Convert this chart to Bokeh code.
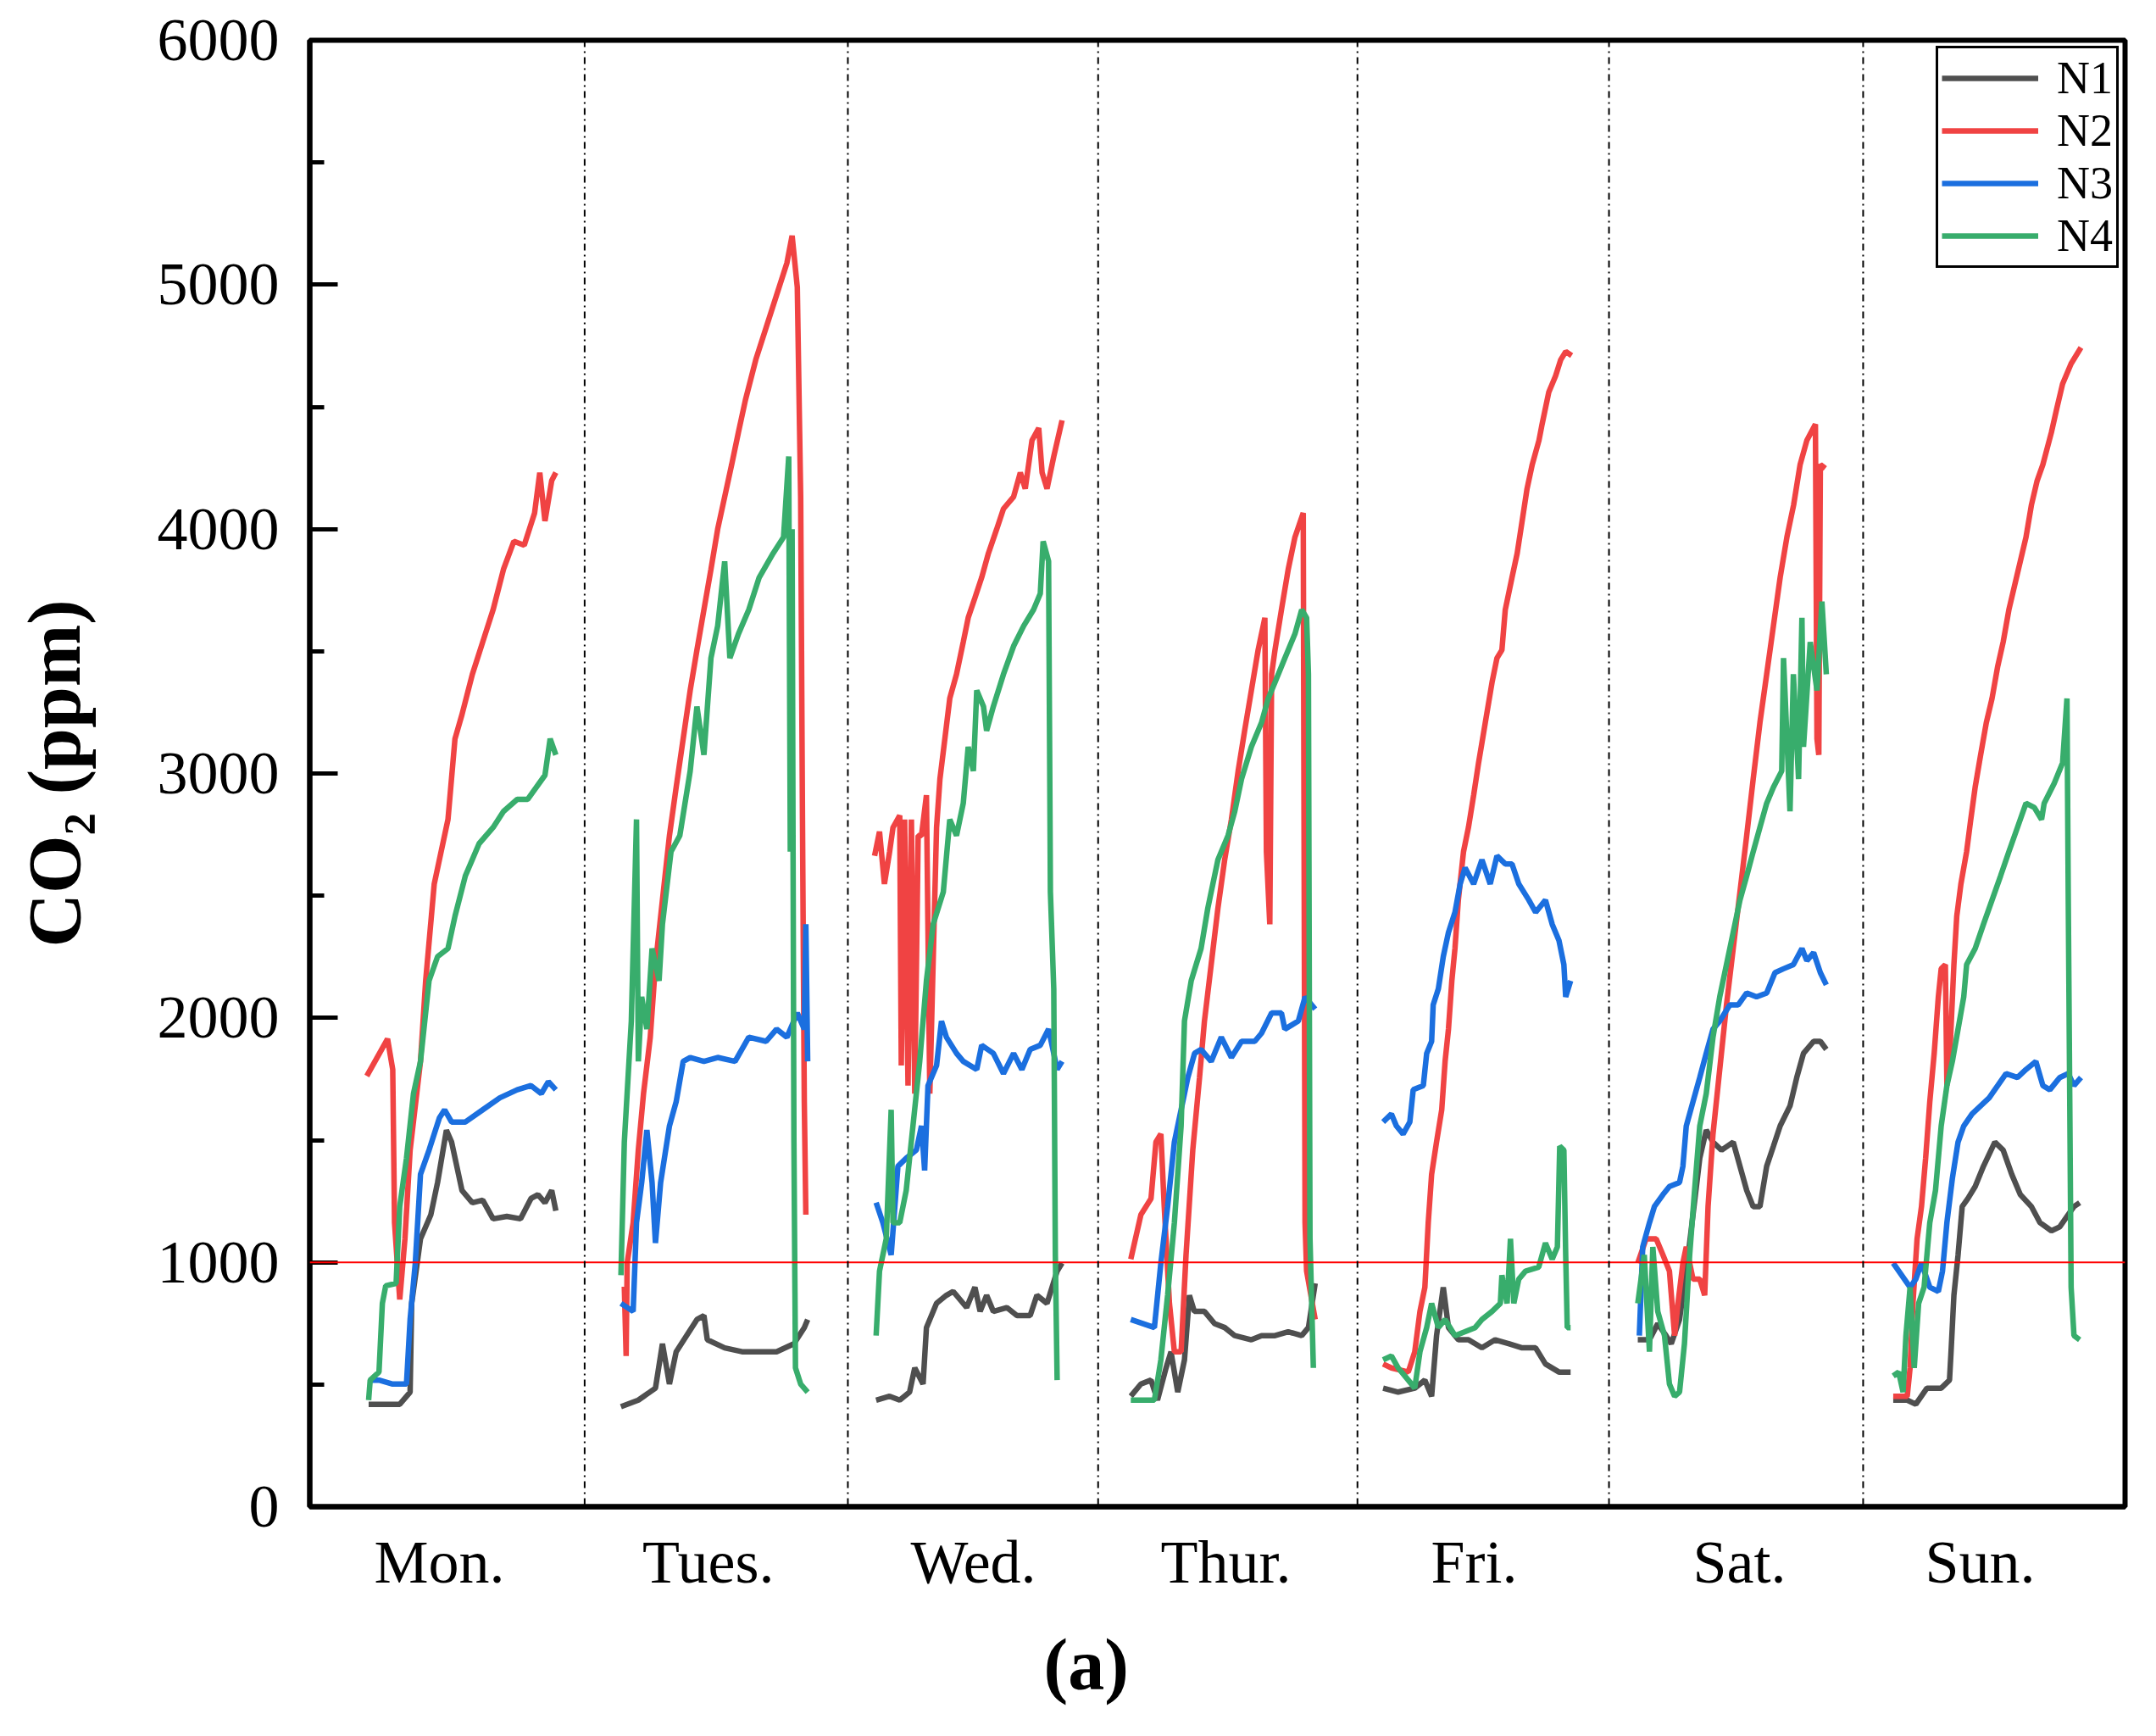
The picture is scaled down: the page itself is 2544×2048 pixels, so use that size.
import numpy as np
from bokeh.plotting import figure
from bokeh.models import Span, Title, FixedTicker, SingleIntervalTicker
from bokeh.embed import file_html
from bokeh.resources import INLINE

# x is time in days (0 = start of Mon.), y is CO2 in ppm
days = ["Mon.", "Tues.", "Wed.", "Thur.", "Fri.", "Sat.", "Sun."]
day_ticks = [0.50, 1.537, 2.559, 3.533, 4.49, 5.513, 6.441]
day_bounds = [1.06, 2.075, 3.04, 4.04, 5.01, 5.99]
limit_ppm = 1000

# ---- N1 ----
n1_mon = [(0.227, 419), (0.267, 419), (0.347, 419), (0.387, 469), (0.393, 832), (0.427, 1096),
          (0.467, 1195), (0.493, 1327), (0.527, 1541), (0.547, 1492), (0.587, 1294), (0.627, 1244),
          (0.667, 1254), (0.707, 1178), (0.76, 1188), (0.813, 1178), (0.853, 1261), (0.88, 1277),
          (0.907, 1244), (0.933, 1294), (0.949, 1211)]
n1_tue = [(1.2, 409), (1.267, 436), (1.333, 485), (1.36, 667), (1.387, 502), (1.413, 634),
          (1.453, 700), (1.493, 766), (1.52, 782), (1.533, 683), (1.6, 650), (1.667, 634),
          (1.733, 634), (1.8, 634), (1.867, 667), (1.907, 733), (1.92, 766)]
n1_wed = [(2.184, 436), (2.236, 452), (2.275, 436), (2.313, 469), (2.333, 568), (2.365, 502),
          (2.378, 733), (2.417, 832), (2.455, 865), (2.481, 881), (2.533, 815), (2.565, 898),
          (2.585, 799), (2.61, 865), (2.636, 799), (2.688, 815), (2.727, 782), (2.778, 782),
          (2.804, 865), (2.843, 832), (2.882, 964), (2.901, 997)]
n1_thu = [(3.166, 452), (3.205, 502), (3.244, 518), (3.269, 436), (3.302, 568), (3.321, 634),
          (3.347, 469), (3.373, 601), (3.392, 865), (3.411, 799), (3.45, 799), (3.489, 749),
          (3.528, 733), (3.567, 700), (3.631, 683), (3.67, 700), (3.722, 700), (3.773, 716),
          (3.825, 700), (3.851, 733), (3.877, 914)]
n1_fri = [(4.139, 485), (4.197, 469), (4.261, 485), (4.3, 518), (4.326, 452), (4.345, 700),
          (4.371, 898), (4.391, 733), (4.429, 683), (4.468, 683), (4.52, 650), (4.571, 683),
          (4.623, 667), (4.675, 650), (4.727, 650), (4.765, 584), (4.817, 551), (4.862, 551)]
n1_sat = [(5.121, 683), (5.166, 683), (5.198, 749), (5.23, 700), (5.25, 667), (5.282, 766),
          (5.308, 964), (5.334, 1195), (5.36, 1426), (5.385, 1541), (5.411, 1492), (5.444, 1459),
          (5.489, 1492), (5.515, 1393), (5.541, 1294), (5.566, 1228), (5.592, 1228), (5.618, 1393),
          (5.644, 1475), (5.67, 1558), (5.708, 1640), (5.734, 1756), (5.76, 1855), (5.799, 1904),
          (5.825, 1904), (5.848, 1871)]
n1_sun = [(6.106, 436), (6.16, 436), (6.193, 419), (6.236, 485), (6.291, 485), (6.323, 518),
          (6.329, 634), (6.34, 865), (6.356, 1030), (6.372, 1228), (6.394, 1261), (6.422, 1310),
          (6.454, 1393), (6.498, 1492), (6.53, 1459), (6.563, 1360), (6.596, 1277), (6.639, 1228),
          (6.672, 1162), (6.716, 1129), (6.748, 1145), (6.781, 1195), (6.803, 1228), (6.825, 1244)]

# ---- N2 ----
n2_mon = [(0.22, 1762), (0.30, 1914), (0.32, 1789), (0.327, 1162), (0.347, 848), (0.367, 1096),
          (0.387, 1459), (0.427, 1822), (0.447, 2152), (0.48, 2548), (0.533, 2812), (0.56, 3142),
          (0.587, 3241), (0.627, 3406), (0.667, 3538), (0.707, 3670), (0.747, 3835), (0.787, 3950),
          (0.827, 3934), (0.867, 4066), (0.887, 4231), (0.907, 4033), (0.933, 4198), (0.949, 4231)]
n2_tue = [(1.213, 900), (1.22, 617), (1.224, 997), (1.247, 1162), (1.267, 1459), (1.287, 1690),
          (1.313, 1921), (1.333, 2218), (1.36, 2482), (1.387, 2746), (1.413, 2944), (1.44, 3142),
          (1.467, 3340), (1.493, 3505), (1.52, 3670), (1.547, 3835), (1.573, 4000), (1.6, 4132),
          (1.627, 4264), (1.653, 4396), (1.68, 4528), (1.72, 4693), (1.76, 4825), (1.8, 4957),
          (1.84, 5089), (1.86, 5200), (1.88, 4990), (1.893, 4132), (1.9, 2812), (1.907, 1657),
          (1.913, 1195)]
n2_wed = [(2.178, 2663), (2.197, 2762), (2.216, 2548), (2.236, 2680), (2.249, 2779), (2.275, 2828),
          (2.281, 1805), (2.294, 2812), (2.307, 1723), (2.32, 2812), (2.333, 1690), (2.346, 2746),
          (2.359, 2746), (2.378, 2911), (2.391, 1690), (2.417, 2779), (2.43, 2977), (2.449, 3142),
          (2.468, 3307), (2.494, 3406), (2.52, 3538), (2.539, 3637), (2.565, 3719), (2.591, 3802),
          (2.617, 3901), (2.649, 4000), (2.675, 4083), (2.714, 4132), (2.74, 4231), (2.759, 4165),
          (2.785, 4363), (2.811, 4413), (2.824, 4231), (2.843, 4165), (2.869, 4297), (2.901, 4445)]
n2_thu = [(3.166, 1013), (3.205, 1195), (3.244, 1261), (3.263, 1492), (3.282, 1525), (3.295, 1228),
          (3.315, 832), (3.334, 634), (3.36, 634), (3.379, 1030), (3.405, 1459), (3.431, 1756),
          (3.45, 1987), (3.476, 2218), (3.502, 2449), (3.528, 2647), (3.554, 2812), (3.58, 3010),
          (3.605, 3175), (3.631, 3340), (3.657, 3505), (3.683, 3637), (3.689, 2680), (3.702, 2383),
          (3.709, 3406), (3.722, 3505), (3.747, 3670), (3.773, 3835), (3.799, 3967), (3.831, 4066),
          (3.838, 1162), (3.844, 964), (3.877, 766)]
n2_fri = [(4.139, 584), (4.171, 568), (4.236, 551), (4.261, 634), (4.281, 799), (4.3, 898),
          (4.313, 1162), (4.326, 1360), (4.345, 1492), (4.365, 1624), (4.378, 1822), (4.391, 1954),
          (4.404, 2152), (4.416, 2284), (4.429, 2482), (4.449, 2680), (4.468, 2779), (4.488, 2911),
          (4.507, 3043), (4.533, 3208), (4.559, 3373), (4.578, 3472), (4.597, 3505), (4.61, 3670),
          (4.636, 3802), (4.656, 3901), (4.675, 4033), (4.694, 4165), (4.714, 4264), (4.74, 4363),
          (4.752, 4429), (4.778, 4561), (4.804, 4627), (4.824, 4693), (4.843, 4726), (4.866, 4710)]
n2_sat = [(5.121, 997), (5.153, 1096), (5.192, 1096), (5.218, 1030), (5.243, 964), (5.263, 700),
          (5.276, 832), (5.295, 997), (5.308, 1063), (5.334, 931), (5.36, 931), (5.379, 865),
          (5.392, 1228), (5.411, 1525), (5.437, 1789), (5.463, 2053), (5.489, 2284), (5.515, 2515),
          (5.541, 2746), (5.566, 2977), (5.592, 3208), (5.618, 3406), (5.644, 3604), (5.67, 3802),
          (5.696, 3967), (5.722, 4099), (5.747, 4264), (5.773, 4363), (5.806, 4429), (5.812, 3142),
          (5.819, 3076), (5.825, 4264), (5.844, 4248)]
n2_sun = [(6.106, 452), (6.16, 452), (6.171, 568), (6.182, 832), (6.198, 1096), (6.215, 1228),
          (6.231, 1426), (6.247, 1657), (6.264, 1855), (6.28, 2086), (6.291, 2201), (6.307, 2218),
          (6.313, 1723), (6.323, 1822), (6.34, 2218), (6.351, 2416), (6.367, 2548), (6.389, 2680),
          (6.405, 2812), (6.422, 2944), (6.443, 3076), (6.465, 3208), (6.487, 3307), (6.509, 3439),
          (6.53, 3538), (6.552, 3670), (6.574, 3769), (6.596, 3868), (6.618, 3967), (6.639, 4099),
          (6.661, 4198), (6.683, 4264), (6.716, 4396), (6.737, 4495), (6.759, 4594), (6.792, 4677),
          (6.83, 4743)]

# ---- N3 ----
n3_mon = [(0.227, 518), (0.267, 518), (0.32, 502), (0.373, 502), (0.387, 766), (0.407, 997),
          (0.427, 1360), (0.46, 1459), (0.48, 1525), (0.5, 1591), (0.52, 1624), (0.547, 1574),
          (0.6, 1574), (0.667, 1624), (0.733, 1673), (0.8, 1706), (0.853, 1723), (0.893, 1690),
          (0.92, 1739), (0.949, 1706)]
n3_tue = [(1.2, 832), (1.247, 799), (1.26, 1162), (1.28, 1327), (1.3, 1541), (1.32, 1327),
          (1.333, 1079), (1.353, 1327), (1.387, 1558), (1.413, 1657), (1.44, 1822), (1.467, 1838),
          (1.52, 1822), (1.573, 1838), (1.64, 1822), (1.693, 1921), (1.76, 1904), (1.8, 1954),
          (1.84, 1921), (1.88, 2020), (1.907, 1954), (1.913, 2383), (1.92, 1822)]
n3_wed = [(2.184, 1244), (2.21, 1162), (2.242, 1030), (2.268, 1393), (2.3, 1426), (2.339, 1459),
          (2.359, 1558), (2.371, 1376), (2.384, 1723), (2.417, 1805), (2.436, 1987), (2.455, 1921),
          (2.494, 1855), (2.52, 1822), (2.572, 1789), (2.591, 1888), (2.636, 1855), (2.675, 1772),
          (2.714, 1855), (2.746, 1789), (2.778, 1871), (2.817, 1888), (2.849, 1954), (2.882, 1789),
          (2.901, 1822)]
n3_thu = [(3.166, 766), (3.257, 733), (3.282, 997), (3.308, 1228), (3.334, 1492), (3.36, 1624),
          (3.386, 1756), (3.412, 1855), (3.437, 1871), (3.476, 1822), (3.515, 1921), (3.554, 1838),
          (3.593, 1904), (3.644, 1904), (3.67, 1937), (3.709, 2020), (3.747, 2020), (3.76, 1954),
          (3.812, 1987), (3.838, 2086), (3.877, 2036)]
n3_fri = [(4.139, 1574), (4.171, 1607), (4.19, 1558), (4.216, 1525), (4.242, 1574), (4.255, 1706),
          (4.294, 1723), (4.307, 1855), (4.326, 1904), (4.332, 2053), (4.352, 2119), (4.371, 2251),
          (4.391, 2350), (4.416, 2432), (4.436, 2548), (4.455, 2614), (4.488, 2548), (4.52, 2647),
          (4.552, 2548), (4.578, 2663), (4.61, 2630), (4.636, 2630), (4.662, 2548), (4.701, 2482),
          (4.727, 2432), (4.765, 2482), (4.791, 2383), (4.817, 2317), (4.836, 2218), (4.843, 2086),
          (4.862, 2152)]
n3_sat = [(5.127, 700), (5.14, 1063), (5.166, 1162), (5.185, 1228), (5.218, 1277), (5.243, 1310),
          (5.282, 1327), (5.295, 1393), (5.308, 1558), (5.334, 1657), (5.36, 1756), (5.385, 1855),
          (5.411, 1954), (5.437, 1987), (5.476, 2053), (5.508, 2053), (5.541, 2102), (5.579, 2086),
          (5.618, 2102), (5.65, 2185), (5.683, 2201), (5.721, 2218), (5.754, 2284), (5.773, 2234),
          (5.799, 2267), (5.825, 2185), (5.848, 2135)]
n3_sun = [(6.106, 997), (6.171, 898), (6.193, 931), (6.215, 997), (6.247, 898), (6.28, 881),
          (6.296, 964), (6.313, 1162), (6.334, 1343), (6.356, 1492), (6.378, 1558), (6.41, 1607),
          (6.443, 1640), (6.476, 1673), (6.509, 1723), (6.541, 1772), (6.585, 1756), (6.618, 1789),
          (6.656, 1822), (6.683, 1723), (6.71, 1706), (6.748, 1756), (6.781, 1772), (6.803, 1723),
          (6.83, 1756)]

# ---- N4 ----
n4_mon = [(0.227, 436), (0.233, 518), (0.267, 551), (0.28, 832), (0.293, 904), (0.333, 914),
          (0.347, 1228), (0.373, 1426), (0.4, 1690), (0.427, 1822), (0.46, 2152), (0.493, 2251),
          (0.533, 2284), (0.56, 2416), (0.6, 2581), (0.653, 2713), (0.707, 2779), (0.747, 2845),
          (0.8, 2894), (0.84, 2894), (0.907, 2993), (0.927, 3142), (0.949, 3076)]
n4_tue = [(1.2, 947), (1.213, 1492), (1.24, 1987), (1.26, 2812), (1.267, 1822), (1.28, 2086),
          (1.3, 1954), (1.32, 2284), (1.347, 2152), (1.36, 2383), (1.393, 2680), (1.427, 2746),
          (1.467, 3010), (1.493, 3274), (1.52, 3076), (1.547, 3472), (1.573, 3604), (1.6, 3868),
          (1.62, 3472), (1.653, 3571), (1.693, 3670), (1.733, 3802), (1.787, 3901), (1.827, 3967),
          (1.847, 4297), (1.853, 2680), (1.86, 4000), (1.867, 1492), (1.873, 568), (1.893, 502),
          (1.92, 469)]
n4_wed = [(2.184, 700), (2.197, 964), (2.223, 1096), (2.242, 1624), (2.249, 1162), (2.275, 1162),
          (2.3, 1294), (2.326, 1558), (2.352, 1822), (2.378, 2152), (2.404, 2383), (2.443, 2515),
          (2.468, 2812), (2.494, 2746), (2.52, 2878), (2.539, 3109), (2.559, 3010), (2.572, 3340),
          (2.598, 3274), (2.61, 3175), (2.636, 3274), (2.675, 3406), (2.714, 3521), (2.753, 3604),
          (2.791, 3670), (2.817, 3736), (2.828, 3950), (2.849, 3868), (2.856, 2515), (2.869, 2119),
          (2.875, 1030), (2.882, 518)]
n4_thu = [(3.166, 436), (3.257, 436), (3.282, 601), (3.308, 865), (3.334, 1162), (3.36, 1558),
          (3.373, 1987), (3.399, 2152), (3.437, 2284), (3.463, 2449), (3.502, 2647), (3.541, 2746),
          (3.567, 2845), (3.593, 2977), (3.631, 3109), (3.67, 3208), (3.696, 3307), (3.722, 3373),
          (3.76, 3472), (3.799, 3571), (3.825, 3670), (3.844, 3637), (3.851, 3406), (3.857, 1096),
          (3.87, 568)]
n4_fri = [(4.139, 601), (4.171, 617), (4.197, 568), (4.236, 518), (4.261, 485), (4.281, 634),
          (4.307, 733), (4.326, 832), (4.352, 733), (4.378, 766), (4.416, 700), (4.455, 716),
          (4.494, 733), (4.52, 766), (4.559, 799), (4.591, 832), (4.597, 947), (4.617, 832),
          (4.63, 1096), (4.643, 832), (4.662, 931), (4.688, 964), (4.739, 980), (4.765, 1079),
          (4.791, 1013), (4.811, 1063), (4.82, 1475), (4.836, 1459), (4.843, 1030), (4.849, 733),
          (4.862, 733)]
n4_sat = [(5.121, 832), (5.146, 1030), (5.166, 634), (5.179, 1063), (5.198, 799), (5.224, 700),
          (5.243, 502), (5.263, 452), (5.282, 469), (5.301, 667), (5.321, 1030), (5.34, 1294),
          (5.36, 1558), (5.385, 1690), (5.411, 1921), (5.437, 2086), (5.463, 2218), (5.489, 2350),
          (5.515, 2482), (5.541, 2581), (5.566, 2680), (5.592, 2779), (5.618, 2878), (5.644, 2944),
          (5.676, 3010), (5.683, 3472), (5.708, 2845), (5.721, 3406), (5.741, 2977), (5.754, 3637),
          (5.76, 3109), (5.786, 3538), (5.812, 3340), (5.831, 3703), (5.848, 3406)]
n4_sun = [(6.106, 535), (6.127, 551), (6.144, 469), (6.155, 700), (6.171, 898), (6.187, 568),
          (6.204, 832), (6.225, 898), (6.247, 1162), (6.269, 1294), (6.291, 1558), (6.313, 1723),
          (6.334, 1822), (6.356, 1954), (6.378, 2086), (6.389, 2218), (6.422, 2284), (6.454, 2383),
          (6.487, 2482), (6.52, 2581), (6.552, 2680), (6.585, 2779), (6.618, 2878), (6.65, 2861),
          (6.678, 2812), (6.688, 2878), (6.727, 2960), (6.759, 3043), (6.776, 3307), (6.781, 2482),
          (6.792, 898), (6.803, 700), (6.825, 683)]


def join(*parts):
    # one line per series, NaN breaks between days
    xs, ys = [], []
    for part in parts:
        xs += [t for t, v in part] + [np.nan]
        ys += [v for t, v in part] + [np.nan]
    return xs, ys


series = [
    ("N1", "#4f4f4f", join(n1_mon, n1_tue, n1_wed, n1_thu, n1_fri, n1_sat, n1_sun)),
    ("N2", "#f04343", join(n2_mon, n2_tue, n2_wed, n2_thu, n2_fri, n2_sat, n2_sun)),
    ("N3", "#1b6fdf", join(n3_mon, n3_tue, n3_wed, n3_thu, n3_fri, n3_sat, n3_sun)),
    ("N4", "#38ad6c", join(n4_mon, n4_tue, n4_wed, n4_thu, n4_fri, n4_sat, n4_sun)),
]

FONT = "Liberation Serif"

p = figure(width=2528, height=2040, x_range=(0, 7), y_range=(0, 6000),
           output_backend="svg", toolbar_location=None, title=None,
           min_border_left=365, min_border_right=21, min_border_top=47, min_border_bottom=263)
p.background_fill_color = "white"
p.border_fill_color = "white"
p.xgrid.visible = False
p.ygrid.visible = False
p.outline_line_color = "black"
p.outline_line_width = 6
p.outline_line_alpha = 1

for name, color, (xs, ys) in series:
    p.line(xs, ys, line_color=color, line_width=6.5, legend_label=name)

p.add_layout(Span(location=limit_ppm, dimension="width", line_color="#ff0000", line_width=2))
for b in day_bounds:
    p.add_layout(Span(location=b, dimension="height", line_color="black", line_width=2,
                      line_dash="8 5 2 5"))

# y axis
p.yaxis.ticker = SingleIntervalTicker(interval=1000, num_minor_ticks=2)
p.yaxis.axis_label = "CO₂ (ppm)"
p.yaxis.axis_label_text_font = FONT
p.yaxis.axis_label_text_font_style = "bold"
p.yaxis.axis_label_text_font_size = "88px"
p.yaxis.axis_label_text_color = "black"
p.yaxis.axis_label_standoff = 70
p.yaxis.major_label_text_font = FONT
p.yaxis.major_label_text_font_size = "72px"
p.yaxis.major_label_text_color = "black"
p.yaxis.major_label_standoff = 36
p.yaxis.major_tick_in = 33
p.yaxis.major_tick_out = 0
p.yaxis.minor_tick_in = 17
p.yaxis.minor_tick_out = 0
p.yaxis.major_tick_line_width = 5
p.yaxis.minor_tick_line_width = 5
p.yaxis.axis_line_width = 6

# x axis: day names
p.xaxis.ticker = FixedTicker(ticks=day_ticks)
p.xaxis.major_label_overrides = {t: d for t, d in zip(day_ticks, days)}
p.xaxis.major_label_text_font = FONT
p.xaxis.major_label_text_font_size = "72px"
p.xaxis.major_label_text_color = "black"
p.xaxis.major_label_standoff = 25
p.xaxis.major_tick_in = 0
p.xaxis.major_tick_out = 0
p.xaxis.minor_tick_line_color = None
p.xaxis.axis_line_width = 6

# legend
lg = p.legend[0]
lg.location = "top_right"
lg.border_line_color = "black"
lg.border_line_width = 3
lg.border_line_alpha = 1
lg.background_fill_alpha = 1
lg.label_text_font = FONT
lg.label_text_font_size = "54px"
lg.label_text_color = "black"
lg.glyph_width = 114
lg.glyph_height = 54
lg.label_height = 54
lg.label_standoff = 22
lg.spacing = 0
lg.padding = 4
lg.margin = 7

# caption (a) under the plot
p.add_layout(Title(text="(a)", align="left", offset=866, text_font=FONT,
                   text_font_size="86px", text_font_style="bold", text_color="black",
                   standoff=56), "below")

open("out.html", "w").write(file_html(p, INLINE))
